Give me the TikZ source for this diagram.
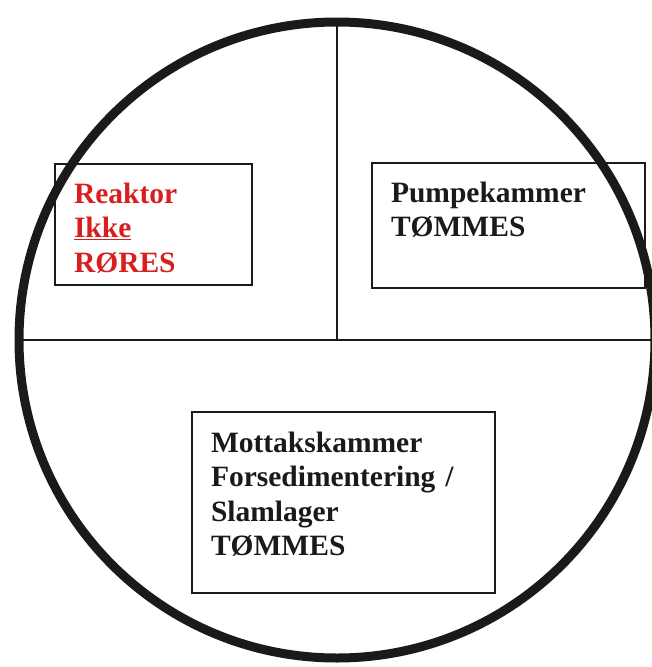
\documentclass[tikz,border=0pt]{standalone}
\usepackage{fontspec}
\setmainfont{Liberation Serif}
\usepackage{tikz}
\usetikzlibrary{positioning}
\definecolor{ink}{HTML}{1A1A1A}
\definecolor{alert}{HTML}{D81E1E}
\newcommand{\thickul}[1]{\underline{#1}}
\tikzset{
  tank/.style={circle, draw=ink, line width=9pt, minimum size=636pt, inner sep=0pt, outer sep=0pt},
  divider/.style={draw=ink, line width=2.6pt},
  chamber/.style={
    draw=ink, line width=1.6pt, anchor=north west,
    align=left, inner xsep=19pt, inner ysep=0pt, outer sep=0pt,
    font=\bfseries\fontsize{29.5}{34.5}\selectfont, text=ink
  },
  warn/.style={chamber, text=alert}
}

\begin{document}
\begin{tikzpicture}[x=1pt, y=-1pt]
  \useasboundingbox (0,0) rectangle (651,667);

  \node[tank] (tank) at (337,340) {};
  \draw[divider] (tank.west) -- (tank.east);
  \draw[divider] (tank.north) -- (tank.center);

  \node[warn, text width=159pt, text height=39pt, text depth=82pt] (reaktor) at (55,164)
    {Reaktor\\\thickul{Ikke}\\RØRES};
  \node[chamber, text width=235pt, text height=39pt, text depth=86pt] (pumpe) at (372,163)
    {Pumpekammer\\TØMMES};
  \node[chamber, text width=265pt, text height=40pt, text depth=141pt] (mottak) at (192,412)
    {Mottakskammer\\Forsedimentering /\\Slamlager\\TØMMES};
\end{tikzpicture}
\end{document}
